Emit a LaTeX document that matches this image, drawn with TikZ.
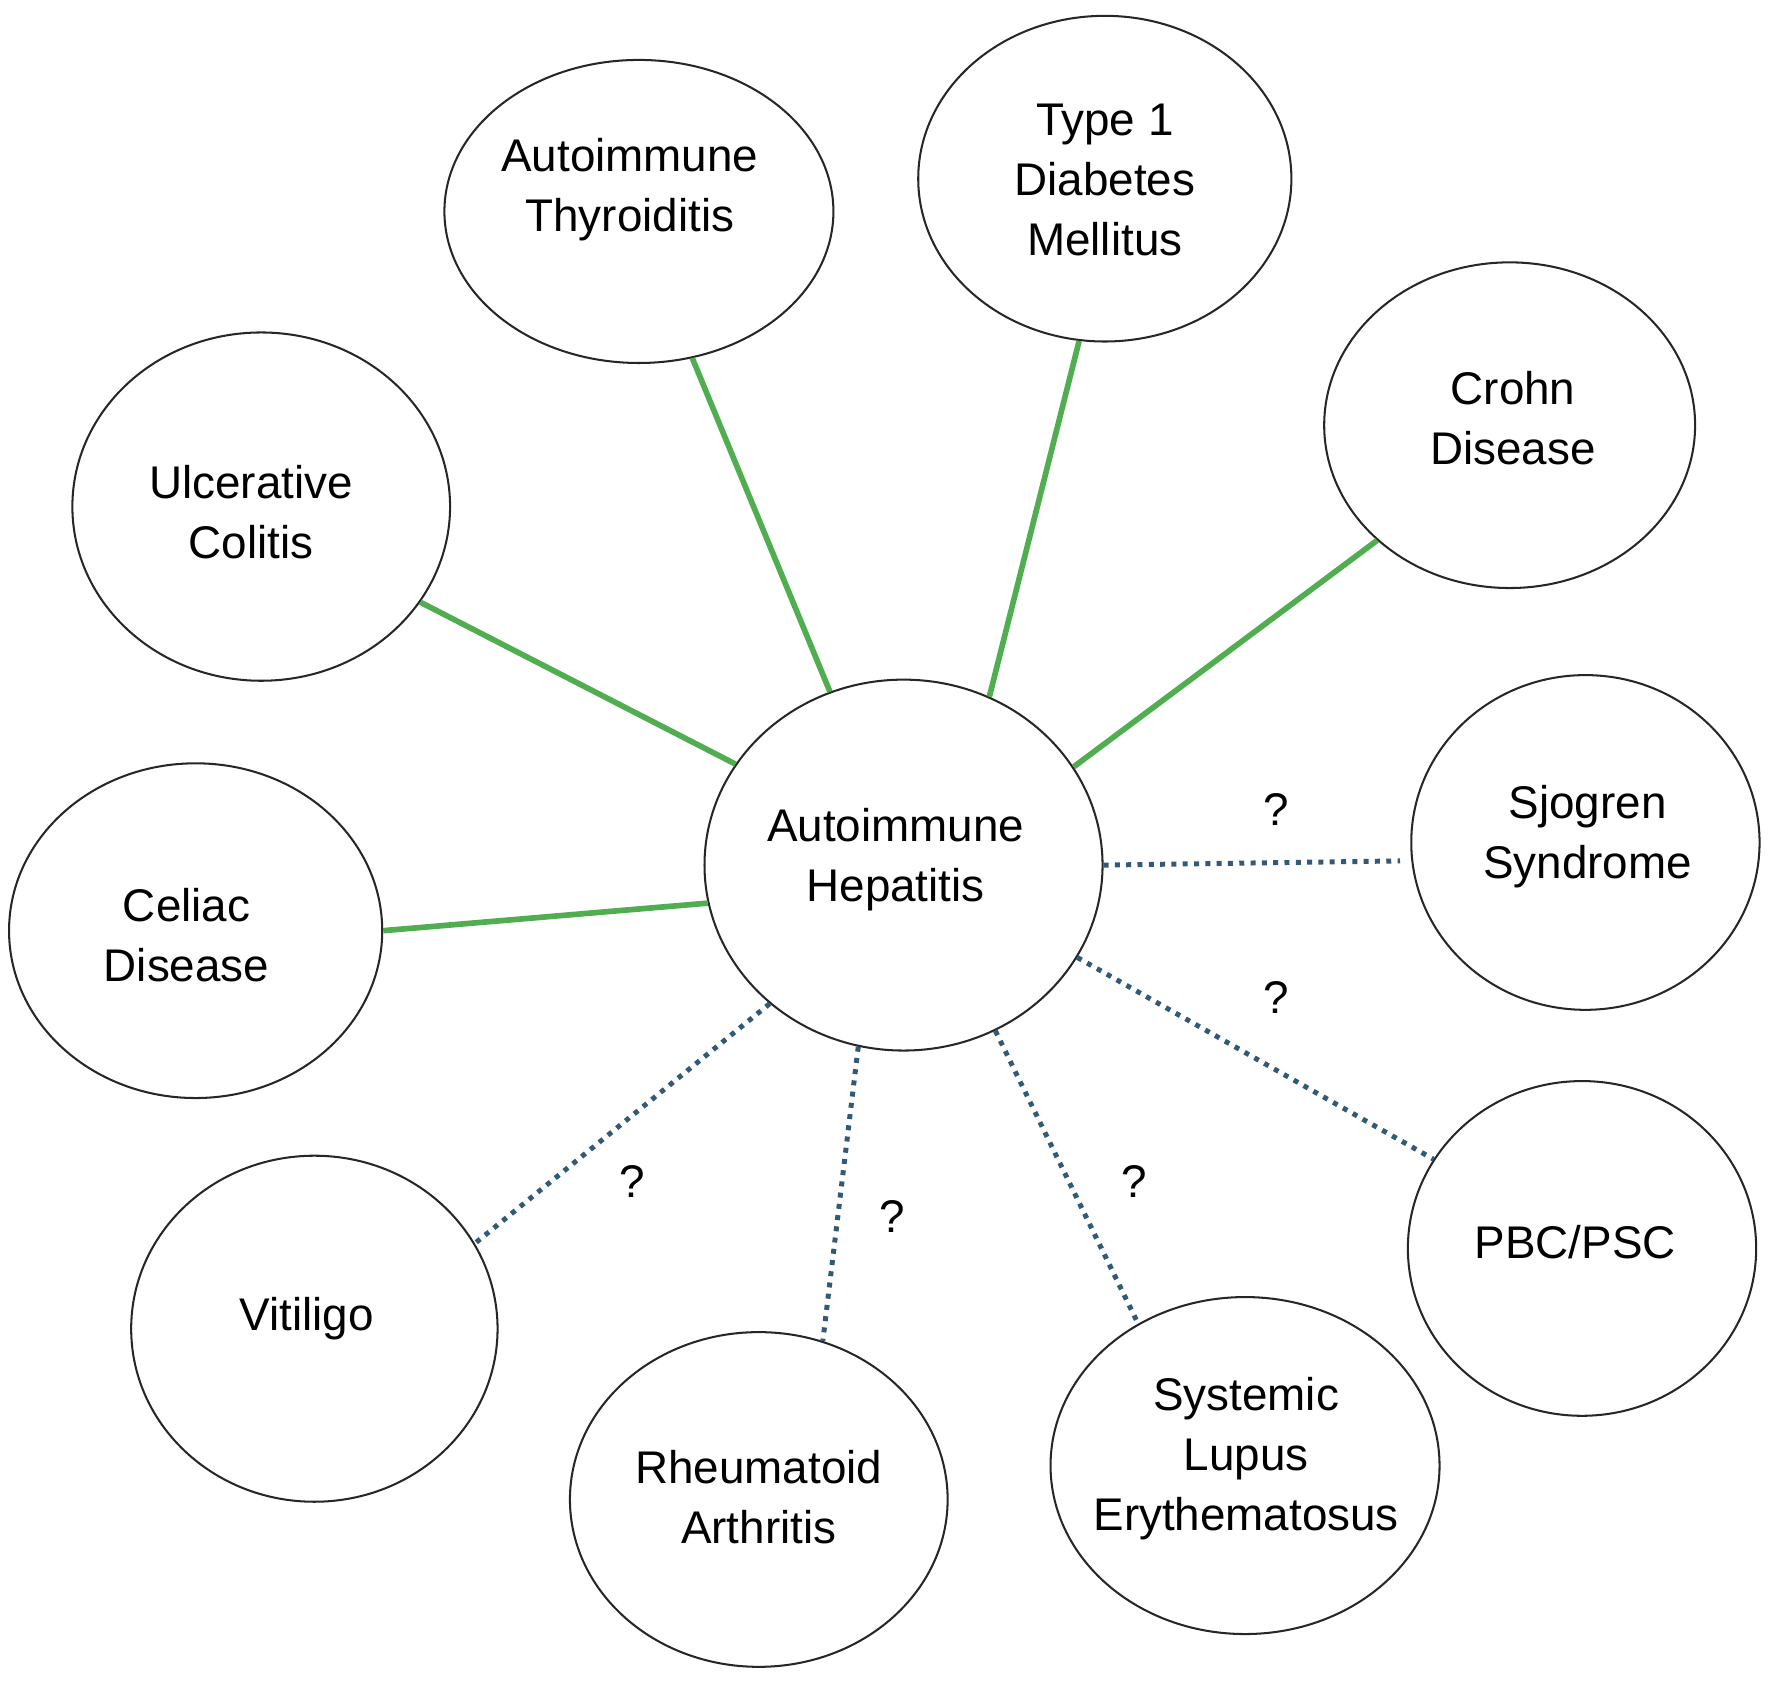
\documentclass[tikz,border=0pt]{standalone}
\usepackage{fontspec}
\setmainfont{Liberation Sans}
\usetikzlibrary{shapes.geometric}
\definecolor{linkgreen}{RGB}{80,174,80}
\definecolor{linkblue}{RGB}{50,90,116}
\begin{document}
\begin{tikzpicture}[x=1pt,y=-1pt,
  ellip/.style={ellipse,draw=black!85,line width=1.8pt,inner sep=0pt},
  txt/.style={align=center,font=\fontsize{40.5}{53}\selectfont,inner sep=0pt},
  qm/.style={font=\fontsize{40.5}{53}\selectfont,inner sep=0pt},
  known/.style={draw=linkgreen,line width=5pt},
  maybe/.style={draw=linkblue,line width=4.4pt,dash pattern=on 4.4pt off 5.6pt}]
\useasboundingbox (0,0) rectangle (1567,1488);
% ellipses
\node[ellip,minimum width=352pt,minimum height=328pt] (hub) at (799,765) {};
\node[ellip,minimum width=344pt,minimum height=268pt] (thy) at (565,187) {};
\node[ellip,minimum width=330pt,minimum height=288pt] (dm) at (977,158) {};
\node[ellip,minimum width=328pt,minimum height=288pt] (cd) at (1335,376) {};
\node[ellip,minimum width=334pt,minimum height=308pt] (uc) at (231,448) {};
\node[ellip,minimum width=330pt,minimum height=296pt] (cel) at (173,823) {};
\node[ellip,minimum width=308pt,minimum height=296pt] (sj) at (1402,745) {};
\node[ellip,minimum width=308pt,minimum height=296pt] (pbc) at (1399,1104) {};
\node[ellip,minimum width=344pt,minimum height=298pt] (sle) at (1101,1296) {};
\node[ellip,minimum width=334pt,minimum height=296pt] (ra) at (671,1326) {};
\node[ellip,minimum width=324pt,minimum height=306pt] (vit) at (278,1175) {};
% texts
\node[txt] (thub) at (792,760) {Autoimmune\\Hepatitis};
\node[txt] (tthy) at (557,168) {Autoimmune\\Thyroiditis};
\node[txt] (tdm) at (977,159) {Type 1\\Diabetes\\Mellitus};
\node[txt] (tcd) at (1338,370) {Crohn\\Disease};
\node[txt] (tuc) at (222,453) {Ulcerative\\Colitis};
\node[txt] (tcel) at (165,827) {Celiac\\Disease};
\node[txt] (tsj) at (1404,740) {Sjogren\\Syndrome};
\node[txt] (tpbc) at (1393,1098) {PBC/PSC};
\node[txt] (tsle) at (1102,1290) {Systemic\\Lupus\\Erythematosus};
\node[txt] (tra) at (671,1324) {Rheumatoid\\Arthritis};
\node[txt] (tvit) at (271,1166) {Vitiligo};
% connectors
\draw[known] (hub.149) -- (uc.-31.6);
\draw[known] (hub.113.1) -- (thy.-70.9);
\draw[known] (hub.63.9) -- (dm.-99.5);
\draw[known] (hub.30) -- (cd.221.7);
\draw[known] (hub.191.9) -- (cel.0);
\draw[maybe,shorten >=10pt] (hub.0) -- (sj.186);
\draw[maybe] (hub.-28.6) -- (pbc.149.5);
\draw[maybe] (hub.-61.8) -- (sle.127.9);
\draw[maybe] (hub.-104.7) -- (ra.68.1);
\draw[maybe] (hub.-134.5) -- (vit.28);
% question marks
\node[qm] (q1) at (1129,716) {?};
\node[qm] (q2) at (1129,882) {?};
\node[qm] (q3) at (1003,1045) {?};
\node[qm] (q4) at (789,1076) {?};
\node[qm] (q5) at (559,1045) {?};
\end{tikzpicture}
\end{document}
